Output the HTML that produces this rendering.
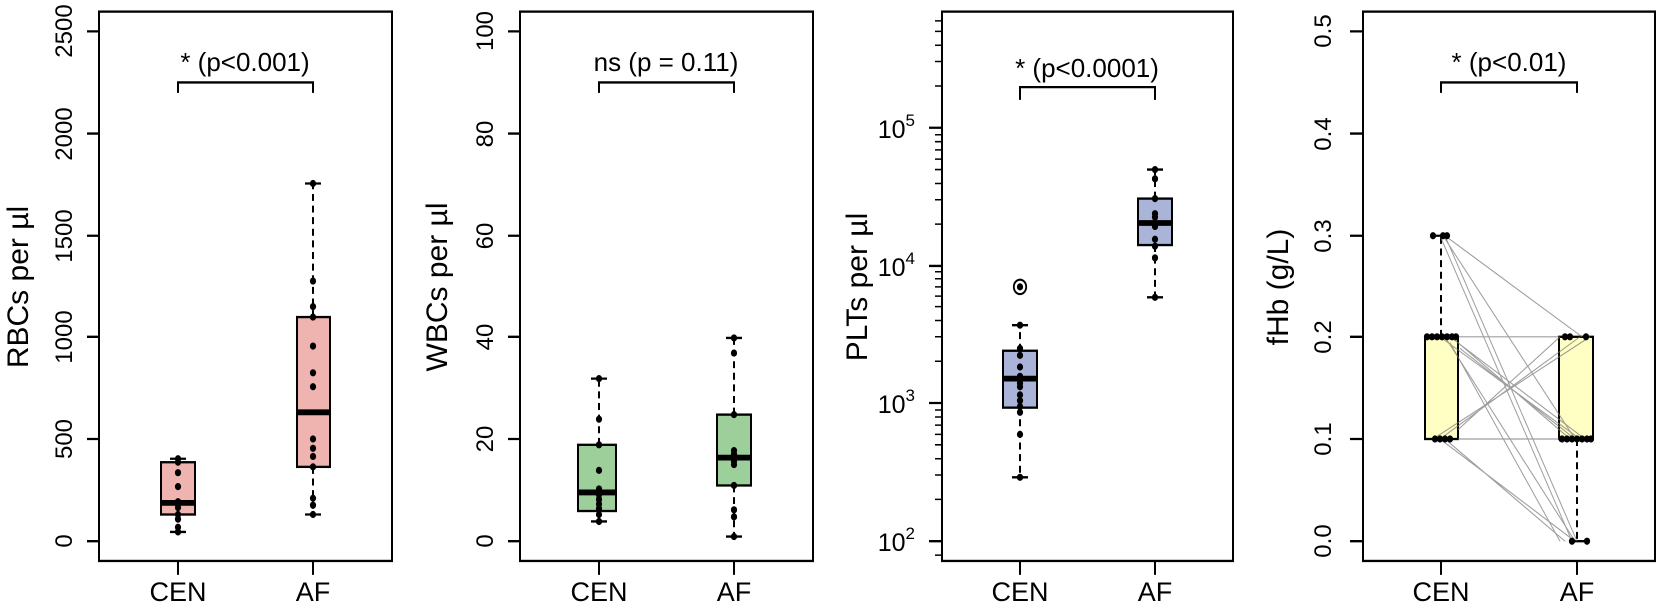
<!DOCTYPE html>
<html><head><meta charset="utf-8"><style>
html,body{margin:0;padding:0;background:#fff;}
svg{display:block;}
text{font-family:"Liberation Sans",sans-serif;fill:#000;}
</style></head><body>
<svg width="1659" height="607" viewBox="0 0 1659 607" xmlns="http://www.w3.org/2000/svg">
<g transform="scale(1 1.1614)">
<g stroke="#000" stroke-width="2" fill="none">
<rect x="99" y="10" width="293" height="473"/>
<rect x="520" y="10" width="293" height="473"/>
<rect x="942" y="10" width="291" height="473"/>
<rect x="1363" y="10" width="292" height="473"/>
<path d="M87 466H99M87 378H99M87 290H99M87 203H99M87 115H99M87 27H99"/>
<path d="M508 466H520M508 378H520M508 290H520M508 203H520M508 115H520M508 27H520"/>
<path d="M929 466H942M929 347H942M929 229H942M929 110H942"/>
<path d="M1350 466H1363M1350 378H1363M1350 290H1363M1350 203H1363M1350 115H1363M1350 27H1363"/>
<path d="M178 483V495M313 483V495M599 483V495M734 483V495M1020 483V495M1155 483V495M1441 483V495M1577 483V495"/>
<path d="M178 80V71H313V80"/>
<path d="M599 80V71H734V80"/>
<path d="M1020 86V75H1155V86"/>
<path d="M1441 80V71H1577V80"/>
</g>
<g stroke="#000" stroke-width="1.3">
<path d="M935 430H942M935 409H942M935 395H942M935 383H942M935 374H942M935 366H942M935 359H942M935 353H942"/>
<path d="M935 311H942M935 290H942M935 276H942M935 264H942M935 255H942M935 247H942M935 240H942M935 234H942"/>
<path d="M935 193H942M935 172H942M935 158H942M935 146H942M935 137H942M935 129H942M935 122H942M935 116H942"/>
<path d="M935 74H942M935 53H942M935 39H942M935 27H942M935 18H942"/>
<path d="M935 478H942"/>
</g>

<g stroke="#000" stroke-width="2">
<path d="M178 398V395M178 443V458" stroke-dasharray="6,4"/>
<path d="M170 395H186M170 458H186"/>
<rect x="161" y="398" width="34" height="45" fill="#efb3b0"/>
<path d="M161 433H195" stroke-width="5"/>
<path d="M313 273V158M313 402V443" stroke-dasharray="6,4"/>
<path d="M305 158H321M305 443H321"/>
<rect x="297" y="273" width="33" height="129" fill="#efb3b0"/>
<path d="M297 355H330" stroke-width="5"/>
</g>
<g fill="#000">
<circle cx="178" cy="395" r="3.1"/><circle cx="178" cy="398" r="3.1"/><circle cx="178" cy="407" r="3.1"/><circle cx="178" cy="419" r="3.1"/><circle cx="178" cy="432" r="3.1"/><circle cx="178" cy="437" r="3.1"/><circle cx="178" cy="443" r="3.1"/><circle cx="178" cy="447" r="3.1"/><circle cx="178" cy="454" r="3.1"/><circle cx="178" cy="458" r="3.1"/>
<circle cx="313" cy="158" r="3.1"/><circle cx="313" cy="242" r="3.1"/><circle cx="313" cy="264" r="3.1"/><circle cx="313" cy="273" r="3.1"/><circle cx="313" cy="298" r="3.1"/><circle cx="313" cy="321" r="3.1"/><circle cx="313" cy="333" r="3.1"/><circle cx="313" cy="378" r="3.1"/><circle cx="313" cy="386" r="3.1"/><circle cx="313" cy="393" r="3.1"/><circle cx="313" cy="402" r="3.1"/><circle cx="313" cy="429" r="3.1"/><circle cx="313" cy="435" r="3.1"/><circle cx="313" cy="443" r="3.1"/>
</g>

<g stroke="#000" stroke-width="2">
<path d="M599 383V326M599 440V449" stroke-dasharray="6,4"/>
<path d="M591 326H607M591 449H607"/>
<rect x="578" y="383" width="38" height="57" fill="#9ccf9a"/>
<path d="M578 424H616" stroke-width="5"/>
<path d="M734 357V291M734 418V462" stroke-dasharray="6,4"/>
<path d="M726 291H742M726 462H742"/>
<rect x="717" y="357" width="34" height="61" fill="#9ccf9a"/>
<path d="M717 394H751" stroke-width="5"/>
</g>
<g fill="#000">
<circle cx="599" cy="326" r="3.1"/><circle cx="599" cy="361" r="3.1"/><circle cx="599" cy="383" r="3.1"/><circle cx="599" cy="405" r="3.1"/><circle cx="599" cy="421" r="3.1"/><circle cx="599" cy="426" r="3.1"/><circle cx="599" cy="430" r="3.1"/><circle cx="599" cy="434" r="3.1"/><circle cx="599" cy="438" r="3.1"/><circle cx="599" cy="443" r="3.1"/><circle cx="599" cy="449" r="3.1"/>
<circle cx="734" cy="291" r="3.1"/><circle cx="734" cy="304" r="3.1"/><circle cx="734" cy="357" r="3.1"/><circle cx="734" cy="388" r="3.1"/><circle cx="734" cy="391" r="3.1"/><circle cx="734" cy="397" r="3.1"/><circle cx="734" cy="400" r="3.1"/><circle cx="734" cy="418" r="3.1"/><circle cx="734" cy="439" r="3.1"/><circle cx="734" cy="445" r="3.1"/><circle cx="734" cy="462" r="3.1"/>
</g>

<g stroke="#000" stroke-width="2">
<path d="M1020 302V280M1020 351V411" stroke-dasharray="6,4"/>
<path d="M1012 280H1028M1012 411H1028"/>
<rect x="1003" y="302" width="34" height="49" fill="#aab4d8"/>
<path d="M1003 326H1037" stroke-width="5"/>
<path d="M1155 171V146M1155 211V256" stroke-dasharray="6,4"/>
<path d="M1147 146H1163M1147 256H1163"/>
<rect x="1138" y="171" width="34" height="40" fill="#aab4d8"/>
<path d="M1138 192H1172" stroke-width="5"/>
<circle cx="1020" cy="247" r="6.2" fill="none" stroke-width="1.8"/>
</g>
<g fill="#000">
<circle cx="1020" cy="247" r="3.1"/>
<circle cx="1020" cy="280" r="3.1"/><circle cx="1020" cy="300" r="3.1"/><circle cx="1020" cy="306" r="3.1"/><circle cx="1020" cy="316" r="3.1"/><circle cx="1020" cy="324" r="3.1"/><circle cx="1020" cy="330" r="3.1"/><circle cx="1020" cy="333" r="3.1"/><circle cx="1020" cy="340" r="3.1"/><circle cx="1020" cy="345" r="3.1"/><circle cx="1020" cy="350" r="3.1"/><circle cx="1020" cy="355" r="3.1"/><circle cx="1020" cy="374" r="3.1"/><circle cx="1020" cy="411" r="3.1"/>
<circle cx="1155" cy="146" r="3.1"/><circle cx="1155" cy="154" r="3.1"/><circle cx="1155" cy="171" r="3.1"/><circle cx="1155" cy="184" r="3.1"/><circle cx="1155" cy="187" r="3.1"/><circle cx="1155" cy="193" r="3.1"/><circle cx="1155" cy="195" r="3.1"/><circle cx="1155" cy="206" r="3.1"/><circle cx="1155" cy="212" r="3.1"/><circle cx="1155" cy="222" r="3.1"/><circle cx="1155" cy="256" r="3.1"/>
</g>

<g stroke="#000" stroke-width="2">
<rect x="1425" y="290" width="33" height="88" fill="#ffffc4"/>
<rect x="1559" y="290" width="34" height="88" fill="#ffffc4"/>
<path d="M1441 290V203M1577 378V466" stroke-dasharray="6,4"/>
<path d="M1433 203H1449M1569 466H1585"/>
<path d="M1425 290H1458M1559 378H1593" stroke-width="4"/>
</g>
<g stroke="#777" stroke-width="1" opacity="0.7">
<path d="M1458 290H1559M1458 378H1559"/>
<path d="M1445 203L1582 290M1443 203L1575 378M1445 203L1577 466M1440 203L1572 466"/>
<path d="M1440 290L1580 378M1458 295L1570 378M1450 290L1585 378M1460 300L1575 378M1450 295L1560 466M1445 290L1575 466"/>
<path d="M1433 378L1590 290M1440 378L1580 290M1458 370L1560 290"/>
<path d="M1440 378L1575 466M1445 378L1565 466"/>
</g>
<g fill="#000">
<circle cx="1433" cy="203" r="3.1"/><circle cx="1443" cy="203" r="3.1"/><circle cx="1447" cy="203" r="3.1"/>
<circle cx="1427" cy="290" r="3.1"/><circle cx="1432" cy="290" r="3.1"/><circle cx="1437" cy="290" r="3.1"/><circle cx="1442" cy="290" r="3.1"/><circle cx="1447" cy="290" r="3.1"/><circle cx="1452" cy="290" r="3.1"/><circle cx="1456" cy="290" r="3.1"/>
<circle cx="1435" cy="378" r="3.1"/><circle cx="1440" cy="378" r="3.1"/><circle cx="1445" cy="378" r="3.1"/><circle cx="1450" cy="378" r="3.1"/>
<circle cx="1565" cy="290" r="3.1"/><circle cx="1570" cy="290" r="3.1"/><circle cx="1586" cy="290" r="3.1"/>
<circle cx="1562" cy="378" r="3.1"/><circle cx="1567" cy="378" r="3.1"/><circle cx="1572" cy="378" r="3.1"/><circle cx="1577" cy="378" r="3.1"/><circle cx="1582" cy="378" r="3.1"/><circle cx="1587" cy="378" r="3.1"/><circle cx="1591" cy="378" r="3.1"/>
<circle cx="1572" cy="466" r="3.1"/><circle cx="1587" cy="466" r="3.1"/>
</g>
</g>

<g font-size="24" text-anchor="middle">
<text transform="translate(72 541) rotate(-90)">0</text>
<text transform="translate(72 439) rotate(-90)">500</text>
<text transform="translate(72 337) rotate(-90)">1000</text>
<text transform="translate(72 236) rotate(-90)">1500</text>
<text transform="translate(72 134) rotate(-90)">2000</text>
<text transform="translate(72 31) rotate(-90)">2500</text>
<text transform="translate(493 541) rotate(-90)">0</text>
<text transform="translate(493 439) rotate(-90)">20</text>
<text transform="translate(493 337) rotate(-90)">40</text>
<text transform="translate(493 236) rotate(-90)">60</text>
<text transform="translate(493 134) rotate(-90)">80</text>
<text transform="translate(493 31) rotate(-90)">100</text>
<text transform="translate(1331 541) rotate(-90)">0.0</text>
<text transform="translate(1331 439) rotate(-90)">0.1</text>
<text transform="translate(1331 337) rotate(-90)">0.2</text>
<text transform="translate(1331 236) rotate(-90)">0.3</text>
<text transform="translate(1331 134) rotate(-90)">0.4</text>
<text transform="translate(1331 31) rotate(-90)">0.5</text>
</g>
<g font-size="25" text-anchor="end">
<text x="915" y="551">10<tspan font-size="17" dy="-12">2</tspan></text>
<text x="915" y="413">10<tspan font-size="17" dy="-12">3</tspan></text>
<text x="915" y="276">10<tspan font-size="17" dy="-12">4</tspan></text>
<text x="915" y="138">10<tspan font-size="17" dy="-12">5</tspan></text>
</g>
<g font-size="30" text-anchor="middle">
<text transform="translate(28 287) rotate(-90)">RBCs per µl</text>
<text transform="translate(447 287) rotate(-90)">WBCs per µl</text>
<text transform="translate(867 287) rotate(-90)">PLTs per µl</text>
<text transform="translate(1288 287) rotate(-90)">fHb (g/L)</text>
</g>
<g font-size="27" text-anchor="middle">
<text x="178" y="601">CEN</text><text x="313" y="601">AF</text>
<text x="599" y="601">CEN</text><text x="734" y="601">AF</text>
<text x="1020" y="601">CEN</text><text x="1155" y="601">AF</text>
<text x="1441" y="601">CEN</text><text x="1577" y="601">AF</text>
</g>
<g font-size="26" text-anchor="middle">
<text x="245" y="71">* (p&lt;0.001)</text>
<text x="666" y="71">ns (p = 0.11)</text>
<text x="1087" y="77">* (p&lt;0.0001)</text>
<text x="1509" y="71">* (p&lt;0.01)</text>
</g>
</svg>
</body></html>
